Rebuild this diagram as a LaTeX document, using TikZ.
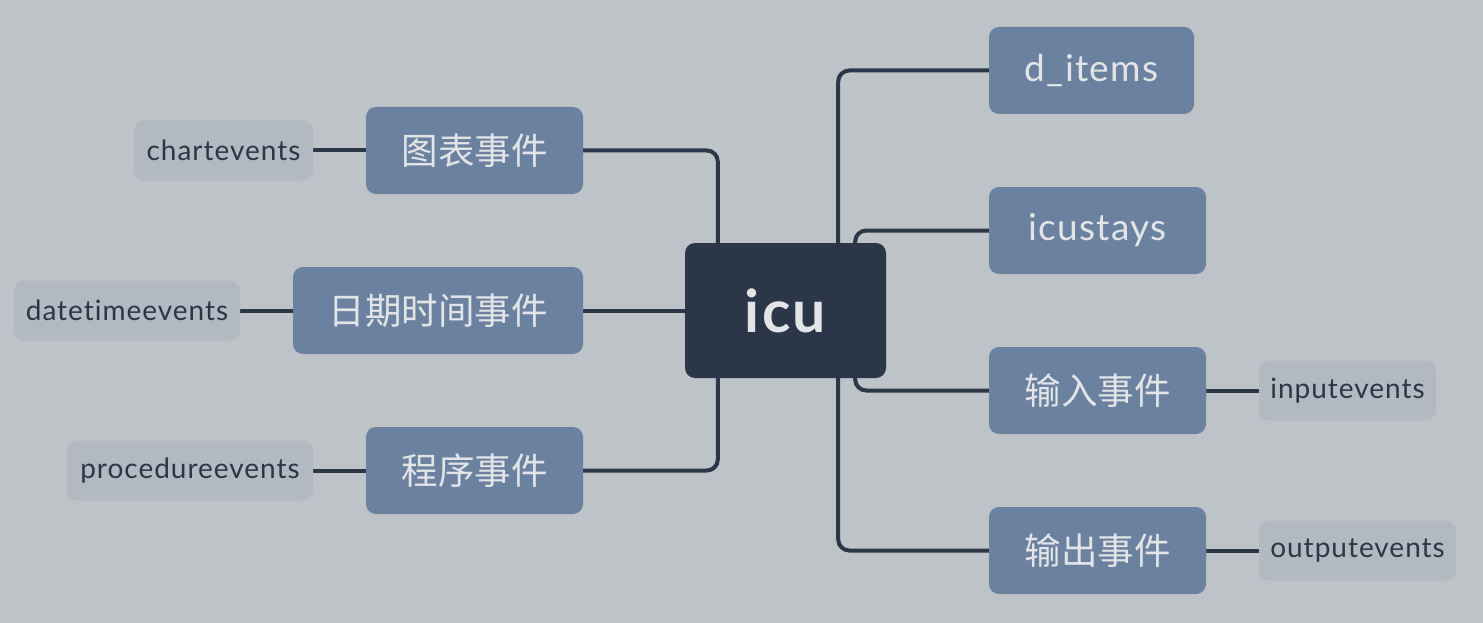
\documentclass[tikz,border=0pt]{standalone}
\usepackage{fontspec}
\setmainfont{Lato}[Ligatures=NoCommon]
\newfontfamily\cjk{Noto Sans CJK SC}
\usetikzlibrary{calc}
\definecolor{bgc}{HTML}{BEC3C7}
\definecolor{dark}{HTML}{2B3748}
\definecolor{midc}{HTML}{6B81A0}
\definecolor{leafc}{HTML}{B3B9C1}
\definecolor{lighttext}{HTML}{E2E4E6}
\pgfdeclarelayer{bgl}
\pgfdeclarelayer{edges}
\pgfsetlayers{bgl,edges,main}
\tikzset{
  centerbox/.style={fill=dark, text=lighttext, rounded corners=10pt, minimum width=201pt, minimum height=135pt, inner sep=0pt, font=\fontsize{59}{62}\selectfont\bfseries\addfontfeature{LetterSpace=4}},
  midbox/.style={fill=midc, text=lighttext, rounded corners=10pt, minimum height=87pt, inner sep=0pt},
  midcjk/.style={midbox, font=\cjk\fontsize{36.5}{40}\selectfont},
  midlat/.style={midbox, font=\fontsize{37}{40}\selectfont\addfontfeature{LetterSpace=3.5}},
  leafbox/.style={fill=leafc, text=dark, rounded corners=10pt, minimum height=60pt, inner sep=0pt, font=\fontsize{28}{32}\selectfont\addfontfeature{LetterSpace=3.5}},
  conn/.style={draw=dark, line width=4pt, rounded corners=11pt}
}
\begin{document}
\begin{tikzpicture}[x=1pt,y=-1pt]
\begin{pgfonlayer}{bgl}
\fill[bgc] (0,0) rectangle (1483,623);
\end{pgfonlayer}
\useasboundingbox (0,0) rectangle (1483,623);
\node[centerbox] (c) at (785.5,310.5) {icu};
\node[midcjk, minimum width=217pt] (m1) at (474.5,150.5) {图表事件};
\node[midcjk, minimum width=290pt] (m2) at (438,310.5) {日期时间事件};
\node[midcjk, minimum width=217pt] (m3) at (474.5,470.5) {程序事件};
\node[midlat, minimum width=205pt] (r1) at (1091.5,70.5) {d\_items};
\node[midlat, minimum width=217pt] (r2) at (1097.5,230.5) {icustays};
\node[midcjk, minimum width=217pt] (r3) at (1097.5,390.5) {输入事件};
\node[midcjk, minimum width=217pt] (r4) at (1097.5,550.5) {输出事件};
\node[leafbox, minimum width=179pt] (l1) at (223.5,150.5) {chartevents};
\node[leafbox, minimum width=226pt] (l2) at (127,310.5) {datetimeevents};
\node[leafbox, minimum width=246pt] (l3) at (190,470.5) {procedureevents};
\node[leafbox, minimum width=177pt] (l4) at (1347.5,390.5) {inputevents};
\node[leafbox, minimum width=197pt] (l5) at (1357.5,550.5) {outputevents};
\begin{pgfonlayer}{edges}
\draw[conn] (m1.east) -| ($(c.north west)+(33,0)$);
\draw[conn] (m2.east) -- (c.west);
\draw[conn] (m3.east) -| ($(c.south west)+(33,0)$);
\draw[conn] (r1.west) -| ($(c.north east)+(-48,0)$);
\draw[conn] (r2.west) -| ($(c.north east)+(-31,0)$);
\draw[conn] (r3.west) -| ($(c.south east)+(-31,0)$);
\draw[conn] (r4.west) -| ($(c.south east)+(-48,0)$);
\draw[conn] (l1.east) -- (m1.west);
\draw[conn] (l2.east) -- (m2.west);
\draw[conn] (l3.east) -- (m3.west);
\draw[conn] (r3.east) -- (l4.west);
\draw[conn] (r4.east) -- (l5.west);
\end{pgfonlayer}
\end{tikzpicture}
\end{document}
